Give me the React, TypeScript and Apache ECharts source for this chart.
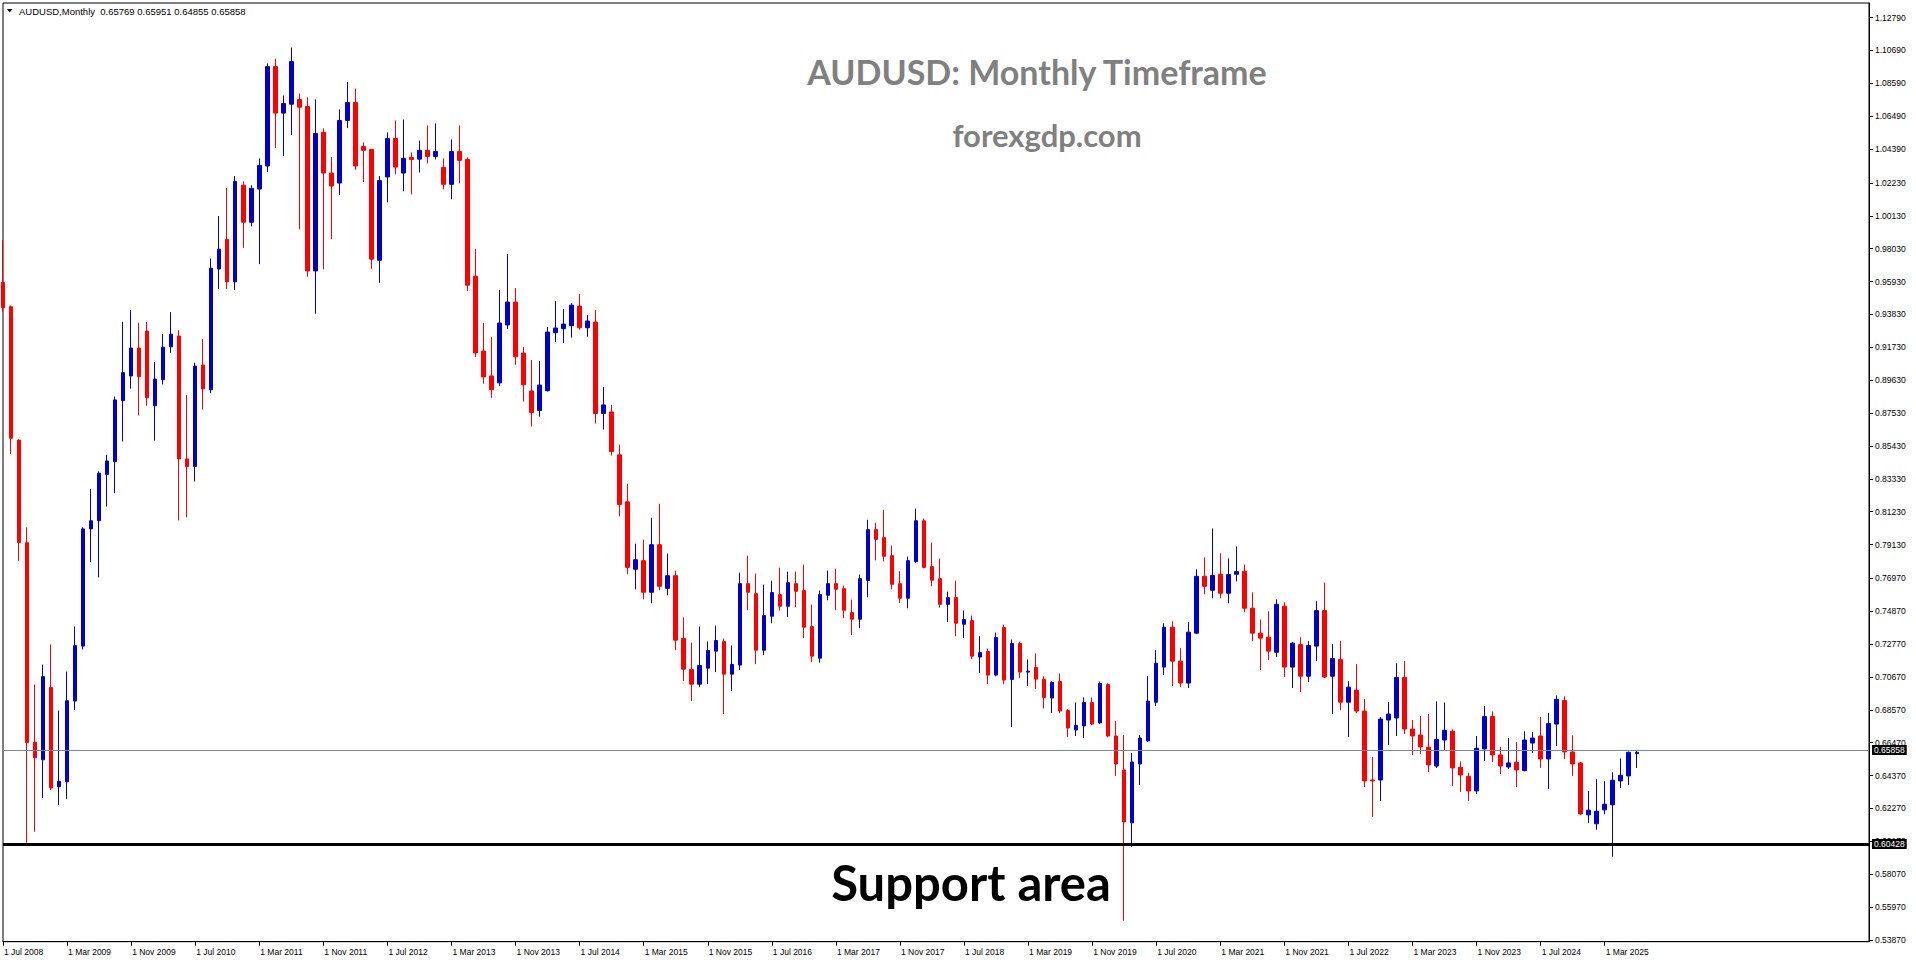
import React, { useEffect, useRef } from "react";
import * as echarts from "echarts";

// ---- Data -------------------------------------------------------------
const MONTH_NAMES = ["Jan", "Feb", "Mar", "Apr", "May", "Jun", "Jul", "Aug", "Sep", "Oct", "Nov", "Dec"];
const START_YEAR = 2008;
const START_MONTH = 6; // July
const TOTAL_SLOTS = 234; // data months + empty chart shift on the right
const LABEL_EVERY = 8;

const opens = [
  0.9587, 0.9432, 0.8580, 0.7925, 0.6650, 0.6538, 0.7000, 0.6366, 0.6397, 0.6913,
  0.7264, 0.8013, 0.8065, 0.8360, 0.8443, 0.8832, 0.8990, 0.9168, 0.9277, 0.8800,
  0.8966, 0.9176, 0.9245, 0.8460, 0.8411, 0.9060, 0.8902, 0.9673, 0.9863, 0.9591,
  1.0208, 0.9972, 1.0184, 1.0331, 1.0966, 1.0669, 1.0726, 1.0756, 1.0711, 0.9661,
  1.0546, 1.0286, 1.0222, 1.0622, 1.0737, 1.0456, 1.0437, 0.9729, 1.0261, 1.0507,
  1.0286, 1.0386, 1.0375, 1.0431, 1.0392, 1.0322, 1.0214, 1.0424, 1.0373, 0.9627,
  0.9149, 0.8990, 0.8946, 0.9316, 0.9462, 0.9136, 0.8894, 0.8769, 0.8896, 0.9266,
  0.9292, 0.9311, 0.9436, 0.9298, 0.9334, 0.8750, 0.8760, 0.8486, 0.8186, 0.7755,
  0.7810, 0.7608, 0.7912, 0.7633, 0.7714, 0.7313, 0.7115, 0.7021, 0.7123, 0.7232,
  0.7293, 0.7085, 0.7143, 0.7663, 0.7599, 0.7238, 0.7455, 0.7593, 0.7519, 0.7663,
  0.7619, 0.7389, 0.7187, 0.7589, 0.7663, 0.7631, 0.7478, 0.7436, 0.7684, 0.8008,
  0.7957, 0.7842, 0.7663, 0.7570, 0.7804, 0.8065, 0.7772, 0.7695, 0.7531, 0.7574,
  0.7404, 0.7427, 0.7194, 0.7230, 0.7079, 0.7383, 0.7051, 0.7281, 0.7098, 0.7128,
  0.7053, 0.6932, 0.7038, 0.6853, 0.6728, 0.6754, 0.6904, 0.6773, 0.7019, 0.6690,
  0.6473, 0.6135, 0.6511, 0.6658, 0.6906, 0.7130, 0.7385, 0.7168, 0.7028, 0.7347,
  0.7710, 0.7621, 0.7723, 0.7602, 0.7723, 0.7742, 0.7506, 0.7347, 0.7321, 0.7225,
  0.7519, 0.7130, 0.7274, 0.7072, 0.7264, 0.7491, 0.7072, 0.7179, 0.6906, 0.6983,
  0.6849, 0.6409, 0.6409, 0.6792, 0.6805, 0.7064, 0.6734, 0.6696, 0.6618, 0.6498,
  0.6664, 0.6720, 0.6490, 0.6432, 0.6339, 0.6607, 0.6815, 0.6569, 0.6492, 0.6522,
  0.6469, 0.6645, 0.6690, 0.6543, 0.6766, 0.6917, 0.6588, 0.6518, 0.6186, 0.6129,
  0.6218, 0.6250, 0.6403, 0.6435, 0.65769,
];

const highs = [
  0.9857, 0.9440, 0.8586, 0.8023, 0.7019, 0.7146, 0.7275, 0.6852, 0.7101, 0.7389,
  0.8023, 0.8269, 0.8380, 0.8486, 0.8858, 0.9336, 0.9411, 0.9330, 0.9335, 0.9079,
  0.9257, 0.9398, 0.9283, 0.8868, 0.9075, 0.9226, 0.9740, 1.0012, 1.0191, 1.0267,
  1.0233, 1.0208, 1.0380, 1.0986, 1.1017, 1.0781, 1.1088, 1.0794, 1.0769, 1.0756,
  1.0571, 1.0388, 1.0692, 1.0867, 1.0826, 1.0482, 1.0440, 1.0267, 1.0546, 1.0622,
  1.0628, 1.0418, 1.0494, 1.0590, 1.0603, 1.0380, 1.0501, 1.0590, 1.0386, 0.9800,
  0.9328, 0.9238, 0.9538, 0.9768, 0.9551, 0.9175, 0.9092, 0.9085, 0.9302, 0.9468,
  0.9417, 0.9455, 0.9513, 0.9379, 0.9411, 0.8920, 0.8805, 0.8550, 0.8301, 0.7918,
  0.7944, 0.8084, 0.8173, 0.7855, 0.7746, 0.7447, 0.7287, 0.7389, 0.7293, 0.7395,
  0.7312, 0.7268, 0.7733, 0.7842, 0.7727, 0.7657, 0.7682, 0.7765, 0.7740, 0.7740,
  0.7784, 0.7529, 0.7619, 0.7746, 0.7759, 0.7651, 0.7561, 0.7721, 0.8071, 0.8052,
  0.8135, 0.7906, 0.7742, 0.7836, 0.8142, 0.8078, 0.7925, 0.7823, 0.7612, 0.7682,
  0.7491, 0.7459, 0.7327, 0.7249, 0.7351, 0.7402, 0.7306, 0.7293, 0.7179, 0.7217,
  0.7072, 0.7040, 0.7089, 0.6860, 0.6904, 0.6936, 0.6936, 0.7038, 0.7026, 0.6785,
  0.6696, 0.6581, 0.6696, 0.7072, 0.7238, 0.7410, 0.7423, 0.7251, 0.7417, 0.7755,
  0.7831, 0.8016, 0.7857, 0.7825, 0.7901, 0.7785, 0.7608, 0.7434, 0.7487, 0.7563,
  0.7544, 0.7289, 0.7321, 0.7296, 0.7551, 0.7670, 0.7276, 0.7296, 0.7040, 0.7149,
  0.6926, 0.6556, 0.6811, 0.6907, 0.7155, 0.7168, 0.6792, 0.6817, 0.6830, 0.6911,
  0.6904, 0.6732, 0.6528, 0.6454, 0.6690, 0.6881, 0.6847, 0.6620, 0.6677, 0.6651,
  0.6720, 0.6715, 0.6811, 0.6836, 0.6949, 0.6943, 0.6694, 0.6524, 0.6339, 0.6414,
  0.6401, 0.6458, 0.6547, 0.6590, 0.65951,
];

const lows = [
  0.9400, 0.8492, 0.7807, 0.6009, 0.6078, 0.6294, 0.6345, 0.6250, 0.6289, 0.6855,
  0.7243, 0.7800, 0.7703, 0.8156, 0.8241, 0.8571, 0.8909, 0.8737, 0.8800, 0.8577,
  0.8936, 0.9138, 0.8067, 0.8086, 0.8316, 0.8775, 0.8880, 0.9546, 0.9546, 0.9538,
  0.9808, 0.9946, 0.9704, 1.0293, 1.0446, 1.0395, 1.0529, 0.9927, 0.9623, 0.9387,
  0.9670, 0.9865, 1.0146, 1.0573, 1.0307, 1.0229, 0.9674, 0.9585, 1.0099, 1.0278,
  1.0169, 1.0150, 1.0290, 1.0348, 1.0373, 1.0182, 1.0118, 1.0220, 0.9532, 0.9111,
  0.8940, 0.8850, 0.8927, 0.9290, 0.9061, 0.8826, 0.8667, 0.8730, 0.8890, 0.9207,
  0.9200, 0.9234, 0.9285, 0.9241, 0.8686, 0.8647, 0.8482, 0.8093, 0.7723, 0.7627,
  0.7563, 0.7538, 0.7621, 0.7589, 0.7238, 0.7041, 0.6913, 0.7002, 0.7021, 0.7098,
  0.6830, 0.6977, 0.7111, 0.7493, 0.7149, 0.7206, 0.7410, 0.7491, 0.7449, 0.7512,
  0.7315, 0.7162, 0.7159, 0.7557, 0.7493, 0.7442, 0.7334, 0.7378, 0.7576, 0.7812,
  0.7806, 0.7627, 0.7540, 0.7506, 0.7797, 0.7761, 0.7646, 0.7510, 0.7417, 0.7327,
  0.7315, 0.7181, 0.7092, 0.7021, 0.7072, 0.7021, 0.6747, 0.7060, 0.7009, 0.6990,
  0.6866, 0.6836, 0.6836, 0.6683, 0.6690, 0.6677, 0.6760, 0.6766, 0.6682, 0.6435,
  0.5510, 0.5982, 0.6377, 0.6651, 0.6881, 0.7079, 0.7009, 0.7002, 0.6996, 0.7340,
  0.7595, 0.7570, 0.7570, 0.7538, 0.7678, 0.7480, 0.7296, 0.7111, 0.7174, 0.7194,
  0.7066, 0.6996, 0.6970, 0.7034, 0.7168, 0.7060, 0.6830, 0.6855, 0.6683, 0.6836,
  0.6364, 0.6173, 0.6275, 0.6632, 0.6690, 0.6702, 0.6569, 0.6575, 0.6460, 0.6486,
  0.6600, 0.6371, 0.6333, 0.6275, 0.6320, 0.6530, 0.6524, 0.6447, 0.6479, 0.6364,
  0.6464, 0.6581, 0.6486, 0.6352, 0.6626, 0.6543, 0.6435, 0.6186, 0.6135, 0.6091,
  0.6190, 0.5918, 0.6358, 0.6377, 0.64855,
];

const closes = [
  0.9425, 0.8592, 0.7925, 0.6648, 0.6551, 0.7069, 0.6358, 0.6400, 0.6915, 0.7267,
  0.8013, 0.8065, 0.8369, 0.8447, 0.8837, 0.9011, 0.9168, 0.8985, 0.8851, 0.8970,
  0.9174, 0.9257, 0.8460, 0.8411, 0.9053, 0.8907, 0.9678, 0.9800, 0.9591, 1.0233,
  0.9972, 1.0188, 1.0335, 1.0966, 1.0669, 1.0730, 1.0998, 1.0707, 0.9661, 1.0539,
  1.0286, 1.0203, 1.0622, 1.0737, 1.0331, 1.0431, 0.9736, 1.0239, 1.0507, 1.0324,
  1.0380, 1.0373, 1.0431, 1.0392, 1.0424, 1.0214, 1.0424, 1.0367, 0.9570, 0.9137,
  0.8984, 0.8902, 0.9328, 0.9462, 0.9112, 0.8934, 0.8756, 0.8932, 0.9270, 0.9296,
  0.9321, 0.9442, 0.9298, 0.9341, 0.8750, 0.8805, 0.8507, 0.8169, 0.7767, 0.7816,
  0.7608, 0.7912, 0.7646, 0.7714, 0.7302, 0.7117, 0.7021, 0.7140, 0.7236, 0.7300,
  0.7085, 0.7147, 0.7663, 0.7608, 0.7238, 0.7459, 0.7606, 0.7519, 0.7670, 0.7614,
  0.7385, 0.7200, 0.7593, 0.7663, 0.7627, 0.7493, 0.7436, 0.7695, 0.8008, 0.7946,
  0.7838, 0.7659, 0.7570, 0.7810, 0.8065, 0.7767, 0.7685, 0.7531, 0.7574, 0.7410,
  0.7434, 0.7200, 0.7223, 0.7079, 0.7319, 0.7047, 0.7281, 0.7098, 0.7104, 0.7053,
  0.6936, 0.7032, 0.6849, 0.6741, 0.6758, 0.6904, 0.6766, 0.7026, 0.6690, 0.6511,
  0.6141, 0.6524, 0.6677, 0.6913, 0.7155, 0.7385, 0.7168, 0.7028, 0.7353, 0.7710,
  0.7646, 0.7716, 0.7602, 0.7721, 0.7740, 0.7506, 0.7347, 0.7315, 0.7232, 0.7531,
  0.7130, 0.7283, 0.7072, 0.7268, 0.7491, 0.7066, 0.7185, 0.6906, 0.7002, 0.6849,
  0.6403, 0.6403, 0.6798, 0.6830, 0.7064, 0.6734, 0.6690, 0.6620, 0.6505, 0.6668,
  0.6726, 0.6486, 0.6441, 0.6339, 0.6611, 0.6815, 0.6569, 0.6498, 0.6518, 0.6473,
  0.6664, 0.6677, 0.6543, 0.6770, 0.6924, 0.6588, 0.6511, 0.6192, 0.6216, 0.6209,
  0.6254, 0.6407, 0.6439, 0.6586, 0.65858,
];

const yTickValues = [
  1.1279, 1.1069, 1.0859, 1.0649, 1.0439, 1.0223, 1.0013, 0.9803, 0.9593, 0.9383,
  0.9173, 0.8963, 0.8753, 0.8543, 0.8333, 0.8123, 0.7913, 0.7697, 0.7487, 0.7277,
  0.7067, 0.6857, 0.6647, 0.6437, 0.6227, 0.6017, 0.5807, 0.5597, 0.5387,
];

const bidPrice = 0.65858;
const supportLevel = 0.60428;
const Y_MIN = 0.53758;
const Y_MAX = 1.13724;

const SYMBOL = "AUDUSD";
const PERIOD = "Monthly";
const TITLE = "AUDUSD: Monthly Timeframe";
const SUBTITLE = "forexgdp.com";
const ANNOTATION = "Support area";

// ---- Component ---------------------------------------------------------
function buildCategories(count: number): string[] {
  const out: string[] = [];
  for (let k = 0; k < count; k++) {
    const m = (START_MONTH + k) % 12;
    const y = START_YEAR + Math.floor((START_MONTH + k) / 12);
    out.push(`1 ${MONTH_NAMES[m]} ${y}`);
  }
  return out;
}

const AXIS_FONT = "'Liberation Sans', Arial, sans-serif";
const BULL = "#0000CD";
const BEAR = "#FF0000";

export default function App() {
  const ref = useRef<HTMLDivElement>(null);

  useEffect(() => {
    document.body.style.margin = "0";
    if (!ref.current) return;
    const chart = echarts.init(ref.current, null, { renderer: "svg" });
    const n = opens.length;
    const categories = buildCategories(TOTAL_SLOTS);
    const candles = opens.map((o, i) => [o, closes[i], lows[i], highs[i]]);
    const showTick = (idx: number) => idx < n && idx % LABEL_EVERY === 0;
    const last = n - 1;
    const header = `${SYMBOL},${PERIOD}  ${opens[last].toFixed(5)} ${highs[last].toFixed(5)} ${lows[last].toFixed(5)} ${closes[last].toFixed(5)}`;

    const priceLabel = {
      show: true,
      position: "end",
      distance: 3,
      color: "#ffffff",
      backgroundColor: "#000000",
      padding: [1, 2, 0, 2],
      fontSize: 8.5,
      lineHeight: 9,
      fontFamily: AXIS_FONT,
    };

    chart.setOption({
      animation: false,
      backgroundColor: "#ffffff",
      grid: {
        left: 3,
        right: 47,
        top: 3,
        bottom: 22.3,
        show: true,
        borderColor: "#000000",
        borderWidth: 1,
        backgroundColor: "#ffffff",
      },
      xAxis: {
        type: "category",
        data: categories,
        boundaryGap: false,
        axisLine: { show: true, lineStyle: { color: "#000000", width: 1 } },
        axisTick: {
          show: true,
          interval: (i: number) => showTick(i),
          length: 4,
          lineStyle: { color: "#000000" },
        },
        axisLabel: {
          show: true,
          interval: (i: number) => showTick(i),
          align: "left",
          margin: 6,
          fontSize: 8.5,
          color: "#000000",
          fontFamily: AXIS_FONT,
          padding: [0, 0, 0, 1],
        },
        splitLine: { show: false },
      },
      yAxis: {
        type: "value",
        position: "right",
        min: Y_MIN,
        max: Y_MAX,
        axisLine: { show: true, lineStyle: { color: "#000000" } },
        axisTick: {
          show: true,
          length: 4,
          customValues: yTickValues,
          lineStyle: { color: "#000000" },
        },
        axisLabel: {
          show: true,
          customValues: yTickValues,
          formatter: (v: number) => Number(v).toFixed(5),
          margin: 6,
          fontSize: 8.5,
          color: "#000000",
          fontFamily: AXIS_FONT,
        },
        splitLine: { show: false },
      },
      series: [
        {
          type: "candlestick",
          data: candles,
          barWidth: 4,
          itemStyle: {
            color: BULL,
            color0: BEAR,
            borderColor: BULL,
            borderColor0: BEAR,
            borderWidth: 1,
          },
          markLine: {
            silent: true,
            symbol: ["none", "none"],
            data: [
              {
                yAxis: bidPrice,
                lineStyle: { color: "#778899", width: 1, type: "solid" },
                label: { ...priceLabel, formatter: () => bidPrice.toFixed(5) },
              },
              {
                yAxis: supportLevel,
                lineStyle: { color: "#000000", width: 3, type: "solid" },
                label: { ...priceLabel, formatter: () => supportLevel.toFixed(5) },
              },
            ],
          },
        },
      ],
      graphic: [
        {
          type: "polygon",
          shape: { points: [[7, 9], [12.5, 9], [9.75, 12.5]] },
          style: { fill: "#000000" },
        },
        {
          type: "text",
          x: 19,
          y: 11,
          style: {
            text: header,
            fill: "#000000",
            fontSize: 9.5,
            fontFamily: AXIS_FONT,
            verticalAlign: "middle",
          },
        },
        {
          type: "text",
          x: 1037,
          y: 71,
          style: {
            text: TITLE,
            fill: "#808080",
            font: "bold 34px Lato, sans-serif",
            align: "center",
            verticalAlign: "middle",
          },
        },
        {
          type: "text",
          x: 1047,
          y: 135,
          style: {
            text: SUBTITLE,
            fill: "#808080",
            font: "bold 31px Lato, sans-serif",
            align: "center",
            verticalAlign: "middle",
          },
        },
        {
          type: "text",
          x: 971,
          y: 882,
          style: {
            text: ANNOTATION,
            fill: "#000000",
            font: "bold 49px Lato, sans-serif",
            align: "center",
            verticalAlign: "middle",
          },
        },
      ],
    });

    return () => chart.dispose();
  }, []);

  return (
    <div
      ref={ref}
      style={{ position: "absolute", left: 0, top: 0, width: 1916, height: 964 }}
    />
  );
}
